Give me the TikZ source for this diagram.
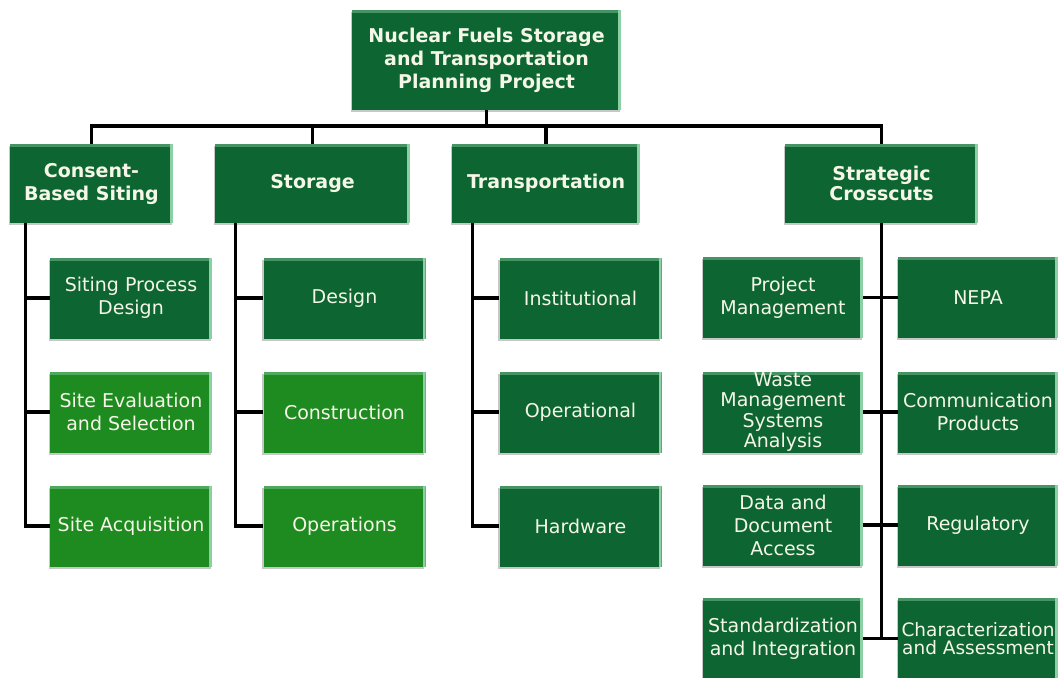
\documentclass[tikz,border=0pt]{standalone}
\usepackage{fontspec}
\setmainfont{DejaVu Sans}
\usetikzlibrary{shadows}

\definecolor{boxdark}{HTML}{0D6531}
\definecolor{boxbright}{HTML}{1D8B1F}
\definecolor{bevel}{HTML}{8CCFA4}
\definecolor{txt}{HTML}{F6F6E8}

\tikzset{
  box/.style={
    fill=boxdark, text=txt, align=center, inner sep=0pt,
    font=\fontsize{19}{23}\selectfont,
    drop shadow={shadow xshift=-1.5pt, shadow yshift=-2pt, fill=black, opacity=0.22},
    path picture={
      \fill[bevel, opacity=0.45] (path picture bounding box.north west)
        rectangle ([yshift=-3pt]path picture bounding box.north east);
      \fill[bevel] ([xshift=-3pt]path picture bounding box.north east)
        rectangle (path picture bounding box.south east);
    }
  },
  head/.style={box, font=\bfseries\fontsize{19}{23}\selectfont},
  leaf/.style={box, minimum width=162pt, minimum height=81pt},
  brightleaf/.style={leaf, fill=boxbright},
  sleaf/.style={box, minimum width=160pt, minimum height=81pt},
  wire/.style={draw=black, line width=3.3pt}
}

\begin{document}
\begin{tikzpicture}[x=1pt, y=-1pt]
  \useasboundingbox (0,0) rectangle (1059,677);
  \fill[white] (0,0) rectangle (1059,677);
  \clip (0,0) rectangle (1059,677);

  % top of the tree
  \node[head, minimum width=269pt, minimum height=100pt] (root) at (486.5,60)
    {Nuclear Fuels Storage\\and Transportation\\Planning Project};

  % first level
  \node[head, minimum width=163pt, minimum height=79pt] (cbs) at (91.5,183.5)
    {Consent-\\Based Siting};
  \node[head, minimum width=195pt, minimum height=79pt] (stor) at (312.5,183.5)
    {Storage};
  \node[head, minimum width=188pt, minimum height=79pt] (trans) at (546,183.5)
    {Transportation};
  \node[head, minimum width=193pt, minimum height=79pt,
        font=\bfseries\fontsize{19}{19.5}\selectfont] (strat) at (881.5,183.5)
    {Strategic\\Crosscuts};

  % Consent-Based Siting
  \node[leaf]       (c1) at (131,298) {Siting Process\\Design};
  \node[brightleaf] (c2) at (131,412) {Site Evaluation\\and Selection};
  \node[brightleaf] (c3) at (131,526) {Site Acquisition};

  % Storage
  \node[leaf]       (s1) at (344.5,298) {Design};
  \node[brightleaf] (s2) at (344.5,412) {Construction};
  \node[brightleaf] (s3) at (344.5,526) {Operations};

  % Transportation
  \node[leaf] (t1) at (580.5,298) {Institutional};
  \node[leaf] (t2) at (580.5,412) {Operational};
  \node[leaf] (t3) at (580.5,526) {Hardware};

  % Strategic Crosscuts, two columns
  \node[sleaf] (x1l) at (783,297.5) {Project\\Management};
  \node[sleaf] (x1r) at (978,297.5) {NEPA};
  \node[sleaf, font=\fontsize{19}{20.5}\selectfont] (x2l) at (783,412)
    {Waste\\Management\\Systems\\Analysis};
  \node[sleaf] (x2r) at (978,412) {Communication\\Products};
  \node[sleaf] (x3l) at (783,525) {Data and\\Document\\Access};
  \node[sleaf] (x3r) at (978,525) {Regulatory};
  \node[sleaf] (x4l) at (783,638.5) {Standardization\\and Integration};
  \node[sleaf, font=\fontsize{18.5}{18.5}\selectfont] (x4r) at (978,638.5)
    {Characterization\\and Assessment};

  % connectors
  \coordinate (bus) at (0,126);
  \draw[wire] (root.south) -- (root.south |- bus);
  \draw[wire] (cbs.north) -- (cbs.north |- bus) -| (strat.north);
  \draw[wire] (stor.north) -- (stor.north |- bus);
  \draw[wire] (trans.north) -- (trans.north |- bus);

  \coordinate (cbsT) at ([xshift=16pt]cbs.south west);
  \draw[wire] (cbsT) |- (c3.west);
  \draw[wire] (cbsT |- c1.west) -- (c1.west);
  \draw[wire] (cbsT |- c2.west) -- (c2.west);

  \coordinate (storT) at ([xshift=21pt]stor.south west);
  \draw[wire] (storT) |- (s3.west);
  \draw[wire] (storT |- s1.west) -- (s1.west);
  \draw[wire] (storT |- s2.west) -- (s2.west);

  \coordinate (transT) at ([xshift=21pt]trans.south west);
  \draw[wire] (transT) |- (t3.west);
  \draw[wire] (transT |- t1.west) -- (t1.west);
  \draw[wire] (transT |- t2.west) -- (t2.west);

  \draw[wire] (strat.south) -- (strat.south |- x4l.east);
  \draw[wire] (x1l.east) -- (x1r.west);
  \draw[wire] (x2l.east) -- (x2r.west);
  \draw[wire] (x3l.east) -- (x3r.west);
  \draw[wire] (x4l.east) -- (x4r.west);
\end{tikzpicture}
\end{document}
